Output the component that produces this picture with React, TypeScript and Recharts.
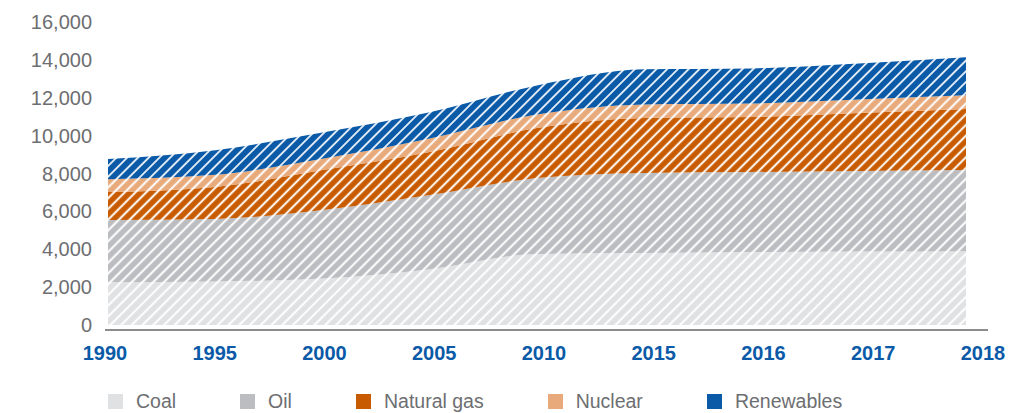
import { AreaChart, Area, XAxis, YAxis } from 'recharts'

const years = ['1990', '1995', '2000', '2005', '2010', '2015', '2016', '2017', '2018']
const coal = [2270, 2300, 2450, 2950, 3750, 3800, 3850, 3880, 3900]
const oil = [3270, 3300, 3620, 3910, 4010, 4230, 4230, 4250, 4280]
const gas = [1480, 1690, 2110, 2270, 2640, 2900, 2900, 3060, 3220]
const nuclear = [680, 640, 600, 720, 720, 720, 720, 720, 730]
const renewables = [1060, 1300, 1380, 1380, 1530, 1850, 1850, 1900, 2010]
const yTicks = [0, 2000, 4000, 6000, 8000, 10000, 12000, 14000, 16000]

const series = [
  { key: 'coal', name: 'Coal', color: '#e0e1e3', values: coal },
  { key: 'oil', name: 'Oil', color: '#bcbdc1', values: oil },
  { key: 'gas', name: 'Natural gas', color: '#c85a00', values: gas },
  { key: 'nuclear', name: 'Nuclear', color: '#e8aa7b', values: nuclear },
  { key: 'renewables', name: 'Renewables', color: '#0a5aa8', values: renewables },
]

const data = years.map((year, i) => {
  const row: any = { year }
  series.forEach((s) => (row[s.key] = s.values[i]))
  return row
})

const font = '"Liberation Sans", Arial, Helvetica, sans-serif'
const period = 7.6

const YearTick = ({ x, y, payload, index }: any) => (
  <text
    x={x - 3 + index * 2.5}
    y={y + 28}
    dy="0.355em"
    textAnchor="middle"
    fill="#0a5aa8"
    fontSize={20}
    fontWeight="bold"
    fontFamily={font}
  >
    {payload.value}
  </text>
)

export default function App() {
  return (
    <div style={{ position: 'absolute', left: 0, top: 0, width: 1017, height: 413, background: '#fff', fontFamily: font }}>
      <AreaChart width={1017} height={413} data={data} margin={{ top: 22, right: 51, left: 0, bottom: 48 }}>
        <defs>
          {series.map((s) => (
            <pattern
              key={s.key}
              id={`hatch-${s.key}`}
              width={period}
              height={period}
              patternUnits="userSpaceOnUse"
              patternTransform="rotate(45)"
            >
              <rect width={period} height={period} fill={s.color} />
              <line
                x1={period / 2}
                y1={0}
                x2={period / 2}
                y2={period}
                stroke="#fff"
                strokeWidth={s.key === 'renewables' ? 1.8 : 2.2}
                opacity={0.92}
              />
            </pattern>
          ))}
        </defs>
        <XAxis
          dataKey="year"
          axisLine={false}
          tickLine={false}
          tickSize={0}
          tickMargin={0}
          height={40}
          interval={0}
          tick={<YearTick />}
        />
        <YAxis
          domain={[0, 16000]}
          ticks={yTicks}
          width={108}
          axisLine={false}
          tickLine={false}
          tickSize={0}
          tickMargin={16}
          interval={0}
          tick={{ fill: '#6d6e71', fontSize: 20, fontFamily: font }}
          tickFormatter={(v) => v.toLocaleString('en-US')}
        />
        {series.map((s) => (
          <Area
            key={s.key}
            type="monotone"
            dataKey={s.key}
            stackId="1"
            stroke="none"
            fill={`url(#hatch-${s.key})`}
            fillOpacity={1}
            isAnimationActive={false}
          />
        ))}
      </AreaChart>
      <div style={{ position: 'absolute', left: 105, top: 329, width: 883, height: 2, background: '#8c8c8c' }} />
      <div style={{ position: 'absolute', left: 108, top: 389, display: 'flex', alignItems: 'center', height: 24 }}>
        {series.map((s) => (
          <div key={s.key} style={{ display: 'flex', alignItems: 'center', marginRight: 64 }}>
            <div style={{ width: 15, height: 15, background: s.color, marginRight: 13 }} />
            <span style={{ fontSize: 19.5, color: '#6d6e71' }}>{s.name}</span>
          </div>
        ))}
      </div>
    </div>
  )
}
